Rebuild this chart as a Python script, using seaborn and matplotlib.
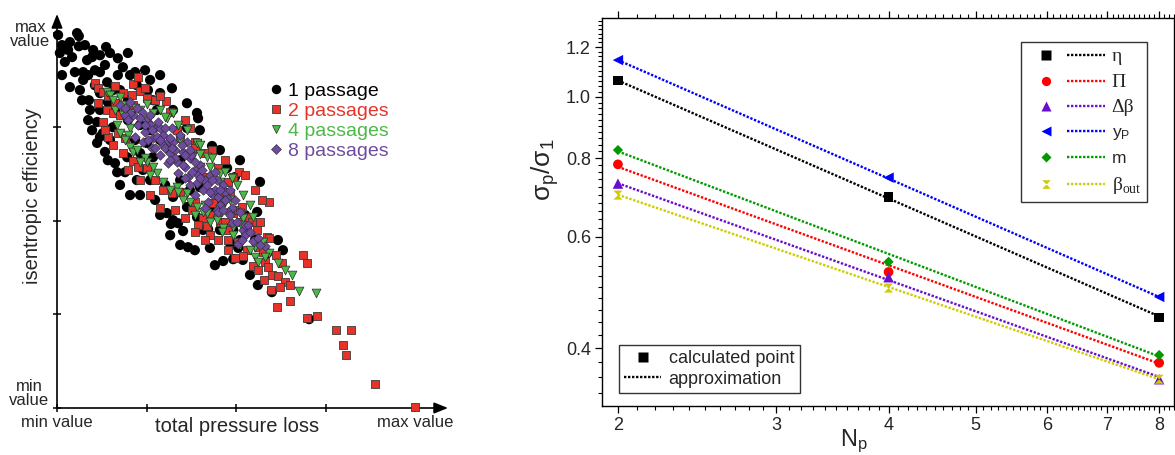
import numpy as np
import pandas as pd
import matplotlib
matplotlib.use("Agg")
import matplotlib.pyplot as plt
import seaborn as sns
from matplotlib.lines import Line2D
from matplotlib.legend_handler import HandlerTuple
from matplotlib.ticker import FixedLocator, FixedFormatter, NullFormatter

# ---------------------------------------------------------------------------
# Left panel: efficiency vs. pressure loss (percent of range) per passage count
# ---------------------------------------------------------------------------
loss_1 = [0.3, 0.8, 3.6, 3.1, 5.6, 6.1, 6.1, 10.1, 9.8, 12.0, 13.7, 14.8, 19.8, 8.4, 7.3, 5.0,
          3.6, 6.4, 7.0, 8.9, 7.3, 12.0, 14.0, 17.0, 18.4, 20.4, 21.8, 24.6, 22.3, 25.4, 26.8,
          12.0, 14.2, 9.2, 12.0, 11.2, 12.8, 11.2, 13.4, 16.2, 16.8, 19.0, 22.3, 24.0, 12.0,
          15.6, 14.8, 39.1, 39.4, 36.3, 43.3, 47.5, 56.7, 55.9, 43.6, 36.3, 32.4, 30.7, 32.4,
          39.1, 40.8, 45.5, 49.2, 39.9, 28.8, 27.9, 32.4, 36.3, 34.4, 26.8, 23.2, 19.6, 25.1,
          31.8, 33.8, 35.2, 36.6, 42.2, 46.4, 49.2, 51.9, 50.6, 48.3, 60.0, 70.4, 58.7, 49.7,
          17.6, 19.8, 16.2, 23.2, 26.0, 28.8, 31.6, 21.8, 34.4, 37.1, 42.7, 45.5, 52.5, 55.3,
          51.1, 2.2, 10.6, 15.6, 30.2, 26.0,
          1.4, 4.2, 7.8, 8.7, 10.6, 1.4, 9.8, 8.7, 14.2, 17.6, 20.4, 23.2, 27.4, 28.8, 31.6,
          34.4, 38.5, 42.7, 44.1, 53.9, 56.1, 61.7, 63.1, 32.1, 26.0, 28.8, 17.0, 13.4, 19.8,
          39.9, 45.5, 51.1]
eff_1 = [99.5, 94.7, 97.6, 95.5, 100.0, 99.2, 96.5, 95.5, 93.6, 94.1, 96.3, 94.7, 94.7, 92.8,
         89.6, 89.6, 85.6, 84.8, 82.1, 82.1, 87.5, 89.6, 86.9, 93.3, 90.9, 88.8, 89.6, 90.1,
         86.1, 84.8, 82.1, 84.0, 81.6, 79.5, 79.5, 76.3, 73.3, 70.7, 68.3, 65.3, 62.9, 62.9,
         60.8, 63.5, 72.3, 74.9, 71.5, 78.7, 77.3, 74.7, 69.9, 64.0, 60.3, 52.3, 57.3, 53.6,
         56.3, 52.0, 50.1, 50.9, 47.5, 47.5, 47.5, 58.9, 84.0, 79.5, 79.5, 81.3, 66.1, 66.9,
         68.0, 66.9, 70.7, 49.1, 49.3, 47.2, 42.9, 47.7, 39.2, 39.7, 39.5, 42.7, 44.0, 30.9,
         23.7, 41.3, 61.6, 84.8, 76.8, 79.5, 75.5, 74.1, 71.5, 68.8, 71.5, 60.8, 58.1, 52.8,
         55.5, 51.5, 44.8, 44.8, 92.3, 90.1, 84.8, 59.5, 60.8,
         96.8, 93.6, 96.8, 88.8, 86.1, 88.8, 74.1, 76.8, 66.1, 59.5, 56.8, 56.8, 55.5, 51.5,
         46.1, 43.5, 42.1, 42.7, 38.1, 35.5, 32.8, 44.8, 42.1, 85.3, 87.5, 88.8, 88.8, 91.5,
         82.1, 74.1, 68.8, 66.1]

loss_2 = [10.6, 11.5, 16.2, 18.4, 21.2, 22.6, 20.9, 23.2, 25.1, 27.4, 30.4, 11.5, 14.0, 15.6,
          16.2, 17.6, 19.0, 31.6, 14.2, 17.0, 19.0, 33.5, 34.4, 38.5, 18.4, 21.2, 22.6, 25.1,
          29.6, 32.1, 34.4, 40.8, 39.1, 38.5, 50.8, 49.2, 59.2, 43.6, 49.2, 51.1, 53.3, 56.7,
          42.7, 45.5, 53.1, 55.9, 58.7, 21.2, 41.3, 45.0, 47.8, 48.3, 33.0, 28.8, 50.6, 40.8,
          51.7, 54.5, 46.9, 42.7, 45.0, 47.8, 50.6, 59.2, 53.1, 56.1, 57.5, 61.2, 51.9, 54.7,
          58.1, 58.9, 62.8, 68.7, 69.8, 60.0, 61.7, 63.7, 65.1, 62.3, 59.8, 65.1, 47.8, 39.4,
          37.7, 38.5, 46.4, 45.0, 61.4, 69.8, 72.6, 77.9, 82.1, 79.9, 80.7, 88.8, 100.0, 41.9,
          12.8, 14.2, 24.6, 28.8, 35.8, 37.1, 43.3, 46.9, 52.5, 55.3, 57.3, 15.6, 19.8, 23.2,
          27.4, 26.0, 35.8, 38.5, 41.3, 47.8, 49.7, 56.1, 57.8, 12.8, 13.4]
eff_2 = [86.7, 85.3, 85.9, 84.0, 86.4, 88.3, 83.5, 84.5, 82.7, 82.1, 81.9, 81.3, 79.5, 78.7,
         81.3, 78.1, 78.9, 78.9, 72.3, 73.3, 72.0, 74.1, 72.0, 70.9, 68.0, 65.9, 64.3, 64.0,
         58.1, 57.3, 57.6, 61.6, 70.7, 69.3, 62.9, 61.6, 54.9, 54.7, 52.0, 49.6, 50.9, 49.6,
         51.5, 49.6, 47.5, 47.5, 45.6, 80.8, 68.0, 64.0, 60.3, 57.3, 52.8, 53.3, 52.8, 50.7,
         53.6, 49.6, 49.6, 46.1, 44.8, 44.8, 44.3, 45.3, 42.1, 42.9, 41.6, 40.8, 40.5, 37.9,
         38.9, 37.6, 38.7, 40.8, 38.7, 35.5, 35.2, 33.6, 32.8, 32.3, 31.5, 28.5, 47.5, 48.8,
         52.8, 54.9, 57.6, 52.3, 26.9, 24.0, 24.5, 20.8, 20.8, 16.8, 14.1, 6.4, 0.3, 48.5,
         84.3, 83.2, 85.3, 83.2, 76.8, 74.7, 68.8, 66.1, 62.1, 58.1, 55.5, 70.1, 63.5, 60.8,
         60.8, 56.8, 50.7, 46.9, 44.8, 42.1, 40.0, 36.8, 34.1, 76.3, 74.1]

loss_4 = [14.0, 14.8, 19.6, 23.2, 28.8, 32.4, 16.2, 18.4, 16.8, 17.6, 20.4, 21.2, 25.1, 27.9,
          29.6, 33.5, 36.3, 39.1, 41.9, 44.7, 49.2, 50.3, 45.5, 41.9, 39.1, 36.3, 34.4, 30.7,
          26.8, 39.9, 43.6, 48.3, 51.1, 54.7, 39.9, 37.7, 21.8, 18.4, 20.4, 19.8, 24.6, 26.8,
          33.8, 37.1, 40.8, 45.5, 47.5, 42.7, 46.9, 51.9, 53.3, 49.2, 52.5, 46.4, 55.3, 57.5,
          55.3, 59.2, 61.7, 65.6, 67.6, 72.3, 41.3, 46.1, 51.4, 56.1,
          15.6, 17.6, 25.1, 30.2, 33.8, 39.9, 43.3, 46.9, 48.9, 51.9, 53.9, 19.0, 22.3, 23.2,
          26.0, 31.6, 35.2, 38.5, 42.7, 51.1, 53.9, 58.1, 63.7]
eff_4 = [84.3, 83.5, 80.3, 79.5, 79.5, 78.7, 79.5, 78.1, 75.5, 73.3, 69.6, 68.3, 65.6, 62.7,
         60.3, 58.9, 57.3, 53.6, 52.0, 50.1, 48.3, 59.5, 62.7, 66.9, 70.7, 74.1, 71.5, 77.3,
         78.7, 64.3, 57.3, 55.5, 52.0, 50.9, 67.7, 66.9, 80.0, 80.8, 74.7, 72.8, 66.7, 64.3,
         57.6, 54.9, 52.3, 60.3, 56.8, 64.3, 54.9, 50.7, 48.3, 46.1, 45.6, 48.0, 42.9, 44.3,
         40.3, 41.3, 38.7, 35.5, 31.2, 30.7, 54.1, 46.9, 48.8, 38.9,
         82.1, 82.9, 81.1, 77.6, 75.5, 70.1, 66.7, 62.9, 61.3, 56.8, 54.1, 71.5, 68.8, 65.6,
         62.1, 58.1, 55.5, 51.5, 49.6, 43.5, 42.1, 40.3, 36.8]

loss_8 = [17.6, 20.4, 21.2, 23.7, 25.4, 22.6, 27.4, 24.6, 29.6, 26.8, 31.0, 21.8, 24.0, 27.9,
          29.6, 26.5, 28.8, 31.6, 33.5, 31.0, 35.8, 33.8, 36.6, 38.5, 39.1, 41.3, 40.8, 43.6,
          42.2, 45.5, 44.7, 28.8, 25.1, 20.4, 32.4, 35.2, 37.1, 39.9, 42.7, 46.4, 47.5, 48.9,
          34.4, 36.3, 54.7, 58.1, 50.6, 48.9, 45.0, 38.5, 37.1, 44.7, 33.0, 39.4, 44.1, 46.9,
          19.0, 51.9, 47.8, 41.3, 52.5, 35.2, 30.2, 26.0, 32.1, 37.4, 44.1,
          19.0, 19.8, 22.3, 23.2, 24.6, 26.0, 26.5, 28.2, 28.8, 30.2, 31.6, 25.4, 27.4, 32.1,
          33.0, 34.9, 35.8, 37.1, 37.7, 38.5, 39.9, 40.5, 41.9, 42.7, 43.3, 45.0, 45.5, 46.4,
          46.9, 48.3, 48.3, 49.7, 50.3, 51.1, 52.5, 53.3, 53.9, 56.1, 56.7, 51.7, 35.8, 31.6]
eff_8 = [80.8, 81.6, 78.1, 78.9, 76.3, 75.5, 74.7, 73.6, 72.8, 72.0, 70.9, 72.3, 70.9, 72.3,
         70.1, 69.3, 67.5, 68.0, 65.6, 65.3, 64.3, 62.7, 61.6, 63.5, 60.0, 60.8, 58.1, 56.8,
         54.9, 54.1, 52.8, 74.7, 77.3, 78.7, 70.9, 68.3, 66.7, 64.8, 62.1, 59.5, 56.0, 53.3,
         72.8, 70.9, 44.5, 43.2, 43.7, 49.3, 52.4, 56.8, 59.5, 60.8, 68.8, 62.1, 58.1, 57.6,
         78.1, 47.5, 52.4, 53.3, 48.8, 64.8, 69.3, 75.5, 74.7, 67.5, 62.9,
         80.0, 76.8, 80.0, 77.3, 75.5, 78.1, 74.1, 76.3, 71.5, 74.7, 72.0, 71.5, 69.3, 69.3,
         66.7, 70.1, 67.5, 68.8, 62.9, 65.6, 61.3, 63.5, 59.5, 57.6, 60.8, 56.3, 58.1, 52.8,
         55.5, 58.1, 51.5, 55.5, 49.6, 52.3, 46.1, 48.8, 46.9, 45.3, 43.5, 44.8, 61.3, 66.1]

passage_labels = ["1 passage", "2 passages", "4 passages", "8 passages"]

# ---------------------------------------------------------------------------
# Right panel: normalised standard deviation vs. number of passages
# ---------------------------------------------------------------------------
n_passages = [2, 4, 8]
param_labels = ["η", "Π", "Δβ", r"y$_\mathregular{P}$", "m", r"β$_\mathregular{out}$"]
ratio_eta = [1.062, 0.694, 0.447]
ratio_pi = [0.782, 0.528, 0.379]
ratio_dbeta = [0.729, 0.518, 0.357]
ratio_yp = [1.144, 0.745, 0.482]
ratio_m = [0.824, 0.548, 0.390]
ratio_beta_out = [0.699, 0.498, 0.357]

# power-law approximation, evaluated at the ends of the passage range
approx_n = [2, 8]
approx_eta = [1.062, 0.449]
approx_pi = [0.775, 0.378]
approx_dbeta = [0.730, 0.360]
approx_yp = [1.144, 0.482]
approx_m = [0.820, 0.388]
approx_beta_out = [0.700, 0.357]

y_major = [0.4, 0.6, 0.8, 1.0, 1.2]
x_major = [2, 3, 4, 5, 6, 7, 8]

# ---------------------------------------------------------------------------
sns.set_style("ticks")
plt.rcParams["font.family"] = ["Liberation Sans", "DejaVu Sans"]
plt.rcParams["mathtext.fontset"] = "custom"
plt.rcParams["mathtext.rm"] = "Liberation Sans"
plt.rcParams["mathtext.it"] = "Liberation Sans:italic"

fig = plt.figure(figsize=(11.75, 4.55), dpi=100)
W, H = 1175.0, 455.0
ax1 = fig.add_axes([57 / W, 1 - 408 / H, 391 / W, 394 / H])
ax2 = fig.add_axes([602 / W, 1 - 406 / H, 572 / W, 388 / H])

# ----------------------------- left panel ---------------------------------
red_c, green_c, purple_c = "#e5332a", "#4cb848", "#6e4b9e"
scatter_styles = [
    (loss_1, eff_1, dict(marker="o", s=54, color="black", edgecolor="none", linewidth=0)),
    (loss_2, eff_2, dict(marker="s", s=38, color=red_c, edgecolor="#3a3a3a", linewidth=0.6)),
    (loss_4, eff_4, dict(marker="v", s=40, color=green_c, edgecolor="#2a2a2a", linewidth=0.5)),
    (loss_8, eff_8, dict(marker="D", s=24, color=purple_c, edgecolor="#2a2a2a", linewidth=0.4)),
]
for xs, ys, kw in scatter_styles:
    df = pd.DataFrame({"loss": xs, "eff": ys})
    sns.scatterplot(data=df, x="loss", y="eff", ax=ax1, legend=False, clip_on=False,
                    zorder=3, **kw)

ax1.set_xlim(0, 109.2)
ax1.set_ylim(0, 105.1)
for sp in ax1.spines.values():
    sp.set_visible(False)
arrow_kw = dict(arrowstyle="-|>,head_length=0.7,head_width=0.28", color="black",
                lw=1.2, mutation_scale=12, shrinkA=0, shrinkB=0)
ax1.annotate("", xy=(1, 0), xytext=(0, 0), xycoords="axes fraction",
             textcoords="axes fraction", arrowprops=arrow_kw, zorder=1)
ax1.annotate("", xy=(0, 1), xytext=(0, 0), xycoords="axes fraction",
             textcoords="axes fraction", arrowprops=arrow_kw, zorder=1)

ax1.set_xticks([0, 25, 50, 75, 100], ["min value", "", "", "", "max value"])
ax1.set_yticks([0, 25, 50, 75, 100], ["", "", "", "", "max\nvalue"])
ax1.tick_params(axis="both", direction="inout", length=5.5, width=1.1, color="black",
                labelsize=12, pad=2)
for t in ax1.get_yticklabels():
    t.set_multialignment("center")
    t.set_linespacing(0.95)
ax1.text(-0.02, 0.0, "min\nvalue", transform=ax1.transAxes, ha="right", va="bottom",
         multialignment="center", linespacing=0.95, fontsize=12)
ax1.set_xlabel("total pressure loss", fontsize=14.5)
ax1.set_ylabel("isentropic efficiency", fontsize=14.5)
ax1.xaxis.set_label_coords(0.4616, -0.022)
ax1.yaxis.set_label_coords(-0.038, 0.537)

left_handles = [
    Line2D([], [], ls="none", marker="o", ms=6.8, mfc="black", mec="none"),
    Line2D([], [], ls="none", marker="s", ms=6.0, mfc=red_c, mec="#3a3a3a", mew=0.6),
    Line2D([], [], ls="none", marker="v", ms=6.4, mfc=green_c, mec="#2a2a2a", mew=0.5),
    Line2D([], [], ls="none", marker="D", ms=4.6, mfc=purple_c, mec="#2a2a2a", mew=0.4),
]
leg1 = ax1.legend(left_handles, passage_labels, loc="upper left",
                  bbox_to_anchor=(0.545, 0.826), frameon=False, fontsize=14,
                  handlelength=0.6, handletextpad=0.3, labelspacing=0.12,
                  borderpad=0, borderaxespad=0)
for t, c in zip(leg1.get_texts(), ["black", red_c, green_c, purple_c]):
    t.set_color(c)

# ----------------------------- right panel --------------------------------
hourglass = [(-1, 1), (1, 1), (-1, -1), (1, -1), (-1, 1)]
series = [
    (ratio_eta, approx_eta, "black", "s", 7.0),
    (ratio_pi, approx_pi, "#ff0000", "o", 7.0),
    (ratio_dbeta, approx_dbeta, "#6a0dcc", "^", 7.5),
    (ratio_yp, approx_yp, "#0000ff", "<", 7.5),
    (ratio_m, approx_m, "#009a00", "D", 5.2),
    (ratio_beta_out, approx_beta_out, "#cccc00", hourglass, 6.5),
]
dotted = (0, (1.0, 0.7))
for pts, apx, col, mk, ms in series:
    line_df = pd.DataFrame({"N": approx_n, "ratio": apx})
    sns.lineplot(data=line_df, x="N", y="ratio", ax=ax2, color=col, lw=1.7,
                 linestyle=dotted, legend=False, zorder=2)
    pt_df = pd.DataFrame({"N": n_passages, "ratio": pts})
    sns.scatterplot(data=pt_df, x="N", y="ratio", ax=ax2, color=col, marker=mk,
                    s=ms ** 2, edgecolor="none", linewidth=0, legend=False, zorder=3,
                    clip_on=False)

ax2.set_xscale("log")
ax2.set_yscale("log")
ax2.set_xlim(1.92, 8.31)
ax2.set_ylim(0.3238, 1.334)

ax2.yaxis.set_major_locator(FixedLocator(y_major))
ax2.yaxis.set_major_formatter(FixedFormatter([f"{v:.1f}" for v in y_major]))
y_minor = [v for v in np.round(np.arange(0.32, 1.34, 0.02), 2) if v not in y_major]
ax2.yaxis.set_minor_locator(FixedLocator(y_minor))
ax2.yaxis.set_minor_formatter(NullFormatter())
ax2.xaxis.set_major_locator(FixedLocator(x_major))
ax2.xaxis.set_major_formatter(FixedFormatter([str(v) for v in x_major]))
x_minor = [v for v in np.round(np.arange(1.9, 8.35, 0.1), 1) if v not in x_major]
ax2.xaxis.set_minor_locator(FixedLocator(x_minor))
ax2.xaxis.set_minor_formatter(NullFormatter())

ax2.tick_params(axis="both", which="major", direction="out", length=5, width=0.9,
                labelsize=13, color="black", pad=3)
ax2.tick_params(axis="both", which="minor", direction="out", length=3, width=0.8,
                color="black")
ax2.tick_params(axis="x", which="both", top=True, labeltop=False)
ax2.tick_params(axis="y", which="both", right=False)
for sp in ax2.spines.values():
    sp.set_visible(True)
    sp.set_linewidth(1.0)
    sp.set_color("black")

ax2.set_xlabel(r"N$_\mathregular{p}$", fontsize=17)
ax2.set_ylabel(r"σ$_\mathregular{p}$/σ$_\mathregular{1}$", fontsize=19)
ax2.xaxis.set_label_coords(0.44, -0.055)
ax2.yaxis.set_label_coords(-0.072, 0.61)

# legend: marker, then the dotted approximation line, then the label
right_handles = []
for pts, apx, col, mk, ms in series:
    m_h = Line2D([], [], ls="none", marker=mk, ms=ms * 0.95, mfc=col, mec="none", color=col)
    l_h = Line2D([], [], color=col, lw=1.7, linestyle=dotted)
    right_handles.append((m_h, l_h))
leg2 = ax2.legend(right_handles, param_labels,
                  handler_map={tuple: HandlerTuple(ndivide=None, pad=0.12)},
                  loc="upper right", bbox_to_anchor=(0.953, 0.938), fontsize=12.5,
                  handlelength=4.5, handletextpad=0.35, labelspacing=0.5,
                  borderpad=0.35, borderaxespad=0, fancybox=False, framealpha=1,
                  edgecolor="#333333")
leg2.get_frame().set_linewidth(1.0)
for t, lab in zip(leg2.get_texts(), param_labels):
    if lab in ("η", "Π", "Δβ") or lab.startswith("β"):
        t.set_fontfamily("Liberation Serif")
        t.set_fontsize(14)
ax2.add_artist(leg2)

kind_handles = [
    Line2D([], [], ls="none", marker="s", ms=7, mfc="black", mec="none"),
    Line2D([], [], color="black", lw=1.7, linestyle=dotted),
]
leg3 = ax2.legend(kind_handles, ["calculated point", "approximation"], loc="lower left",
                  bbox_to_anchor=(0.0297, 0.0335), fontsize=13, handlelength=2.05,
                  handletextpad=0.4, labelspacing=0.2, borderpad=0.3, borderaxespad=0,
                  fancybox=False, framealpha=1, edgecolor="#333333")
leg3.get_frame().set_linewidth(1.0)

fig.savefig("out.png", dpi=100)
